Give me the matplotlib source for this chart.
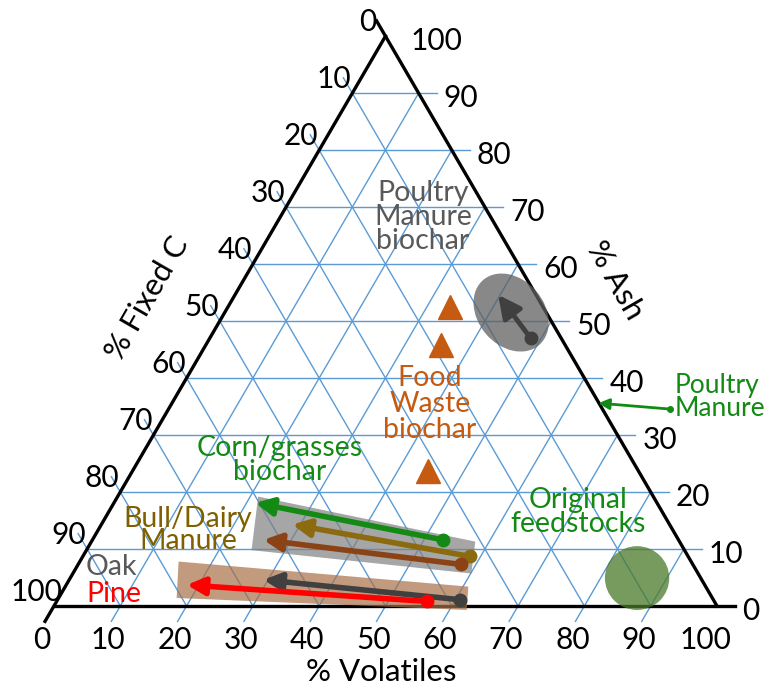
import numpy as np
import matplotlib.pyplot as plt
from matplotlib.patches import Ellipse, Polygon, Circle

plt.rcParams['font.family'] = ['Lato', 'DejaVu Sans']

W, H = 773, 691
ticks = list(range(0, 101, 10))

# biochar trajectories: start (dot) -> end (arrow head), in (% volatiles, % ash)
arrow_names = ['Corn/grasses', 'Bull', 'Dairy', 'Oak', 'Pine']
start_vol = [52.9, 58.4, 57.7, 60.7, 55.8]
start_ash = [11.6, 8.7, 7.3, 1.1, 0.8]
end_vol = [21.3, 28.8, 25.8, 29.3, 18.2]
end_ash = [18.1, 14.3, 11.6, 4.6, 3.7]
arrow_colors = ['#138a13', '#8c6a10', '#8b4316', '#404040', '#ff0000']

# food waste biochar
food_vol = [33.5, 35.5, 44.6]
food_ash = [52.5, 45.8, 23.7]

# poultry manure biochar
pm_start = (48.4, 47.0)
pm_end = (39.7, 54.6)
pm_center = (43.2, 51.5)

# raw poultry manure (on the edge) and original feedstocks
pm_raw = (64.3, 35.6)
feed_center = (85.5, 4.9)

# shaded bands (vol, ash corners)
band_grey_vol = [21.2, 57.9, 60.1, 24.9]
band_grey_ash = [19.2, 11.3, 5.7, 9.8]
band_tan_vol = [14.9, 60.8, 62.6, 17.8]
band_tan_ash = [7.8, 3.4, -0.7, 1.4]

S3 = np.sqrt(3) / 2


def tern(vol, ash):
    vol = np.asarray(vol, float)
    ash = np.asarray(ash, float)
    return vol + ash / 2, ash * S3


fig = plt.figure(figsize=(W / 100, H / 100), dpi=100)
ax = fig.add_axes([0, 0, 1, 1])
ax.set_xlim(-8.14, 108.45)
ax.set_ylim(-12.92, 92.1)
ax.axis('off')

stub = 2.7
grid_c = '#5b9bd5'
for t in ticks:
    if t == 100:
        continue
    c = 'black' if t == 0 else grid_c
    lw = 2.4 if t == 0 else 1.0
    z = 3 if t == 0 else 1
    # constant ash: horizontal, stub to the right
    x0, y0 = tern(0, t)
    x1, y1 = tern(100 - t, t)
    ax.plot([x0, x1 + stub], [y0, y1], color=c, lw=lw, zorder=z)
    # constant fixed C: parallel to right edge, stub up-left
    x0, y0 = tern(100 - t, 0)
    x1, y1 = tern(0, 100 - t)
    ax.plot([x0, x1 - stub * 0.5], [y0, y1 + stub * S3], color=c, lw=lw, zorder=z)
    # constant volatiles: parallel to left edge, stub down-left
    x0, y0 = tern(t, 100 - t)
    x1, y1 = tern(t, 0)
    ax.plot([x0, x1 - stub * 0.5], [y0, y1 - stub * S3], color=c, lw=lw, zorder=z)

# tick labels
fs = 21.5
for t in ticks:
    ax.annotate(str(t), tern(t, 0), xytext=(-12, -34), textcoords='offset pixels',
                ha='center', va='center', fontsize=fs)
    ax.annotate(str(t), tern(100 - t, t), xytext=(25, -5), textcoords='offset pixels',
                ha='left', va='center', fontsize=fs)
    ax.annotate(str(t), tern(0, 100 - t), xytext=(-18, 14), textcoords='offset pixels',
                ha='center', va='center', fontsize=fs)

# shaded bands
ax.add_patch(Polygon(np.column_stack(tern(band_grey_vol, band_grey_ash)),
                     closed=True, facecolor='#808080', alpha=0.7, lw=0, zorder=4))
ax.add_patch(Polygon(np.column_stack(tern(band_tan_vol, band_tan_ash)),
                     closed=True, facecolor='#a87048', alpha=0.7, lw=0, zorder=4))

# original feedstocks
ax.add_patch(Circle(tern(*feed_center), 4.85, facecolor='#4a7a2a', alpha=0.75,
                    lw=0, zorder=4))

# poultry manure biochar
ax.add_patch(Ellipse(tern(*pm_center), 13.0, 10.0, angle=-50, facecolor='#606060',
                     alpha=0.75, lw=0, zorder=4))
ax.annotate('', xy=tern(*pm_end), xytext=tern(*pm_start),
            arrowprops=dict(arrowstyle='-|>', color='#404040', lw=3.5,
                            mutation_scale=34, shrinkA=0, shrinkB=0), zorder=6)
ax.plot(*tern(*pm_start), 'o', color='#404040', ms=9, zorder=6)

# trajectories
for sv, sa, ev, ea, c in zip(start_vol, start_ash, end_vol, end_ash, arrow_colors):
    ax.annotate('', xy=tern(ev, ea), xytext=tern(sv, sa),
                arrowprops=dict(arrowstyle='-|>', color=c, lw=4,
                                mutation_scale=26, shrinkA=0, shrinkB=0), zorder=6)
    ax.plot(*tern(sv, sa), 'o', color=c, ms=9, zorder=6)

# food waste biochar
ax.plot(*tern(food_vol, food_ash), '^', color='#c55a11', ms=17, lw=0, zorder=6)

# raw poultry manure pointer
px, py = tern(*pm_raw)
ax.annotate('', xy=(px, py), xytext=(px + 10.8, py - 0.9),
            arrowprops=dict(arrowstyle='-|>', color='#138a13', lw=2,
                            mutation_scale=16, shrinkA=0, shrinkB=0), zorder=6)
ax.plot(px + 10.8, py - 0.9, 'o', color='#138a13', ms=4, zorder=6)


def ptext(x, y, s, **kw):
    fig.text(x / W, 1 - y / H, s, **kw)


ptext(381, 672, '% Volatiles', ha='center', va='center', fontsize=22.5)
ptext(615, 280, '% Ash', ha='center', va='center', fontsize=22.5, rotation=-60,
      rotation_mode='anchor')
ptext(147, 298, '% Fixed C', ha='center', va='center', fontsize=22.5, rotation=60,
      rotation_mode='anchor')

lfs = 20.5
ptext(423, 217, 'Poultry\nManure\nbiochar', ha='center', va='center', fontsize=lfs,
      color='#595959', linespacing=0.9)
ptext(430, 404, 'Food\nWaste\nbiochar', ha='center', va='center', fontsize=lfs,
      color='#c55a11', linespacing=1.0)
ptext(280, 460, 'Corn/grasses\nbiochar', ha='center', va='center', fontsize=lfs,
      color='#138a13', linespacing=0.9)
ptext(188, 530, 'Bull/Dairy\nManure', ha='center', va='center', fontsize=lfs,
      color='#7f6000', linespacing=0.85)
ptext(86, 567, 'Oak', ha='left', va='center', fontsize=lfs, color='#595959')
ptext(86, 594, 'Pine', ha='left', va='center', fontsize=lfs, color='#ff0000')
ptext(578, 512, 'Original\nfeedstocks', ha='center', va='center', fontsize=lfs,
      color='#138a13', linespacing=0.9)
ptext(675, 397, 'Poultry\nManure', ha='left', va='center', fontsize=19,
      color='#138a13', linespacing=0.9)

fig.savefig('out.png', dpi=100)
